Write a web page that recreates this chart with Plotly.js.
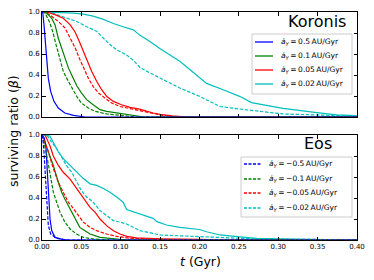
<!DOCTYPE html>
<html><head><meta charset="utf-8">
<script src="https://cdn.plot.ly/plotly-3.0.1.min.js"></script>
<style>html,body{margin:0;padding:0;background:#fff}#c{width:374px;height:280px}</style>
</head><body><div id="c"></div>
<script>
// ---- Koronis (top) ----
const kBlueT = [0,0.001,0.0025,0.0042,0.0059,0.008,0.011,0.0152,0.0207,0.029,0.040,0.048,0.055,0.40];
const kBlueB = [1,0.99,0.88,0.72,0.53,0.37,0.244,0.149,0.086,0.038,0.016,0.006,0,0];
const kGreenT = [0,0.0059,0.0123,0.0165,0.0207,0.025,0.029,0.0334,0.0377,0.044,0.050,0.0567,0.065,0.0737,0.082,0.0948,0.1075,0.12,0.13,0.40];
const kGreenB = [1,0.99,0.94,0.88,0.75,0.66,0.56,0.47,0.40,0.30,0.23,0.165,0.117,0.07,0.054,0.038,0.022,0.01,0,0];
const kGreenDT = [0,0.0038,0.0093,0.0135,0.0178,0.022,0.027,0.0313,0.0377,0.044,0.050,0.0588,0.0673,0.082,0.099,0.112,0.12,0.40];
const kGreenDB = [1,0.99,0.91,0.816,0.69,0.56,0.435,0.37,0.276,0.197,0.133,0.086,0.054,0.029,0.016,0.006,0,0];
const kRedT = [0,0.0059,0.0165,0.027,0.0356,0.042,0.0474,0.0525,0.0576,0.063,0.0694,0.0758,0.082,0.0906,0.101,0.1117,0.124,0.133,0.141,0.150,0.165,0.185,0.40];
const kRedB = [1,1.0,0.975,0.94,0.88,0.81,0.72,0.625,0.53,0.435,0.34,0.26,0.197,0.149,0.117,0.092,0.075,0.055,0.038,0.025,0.01,0,0];
const kRedDT = [0,0.0038,0.0123,0.0207,0.029,0.0356,0.042,0.0474,0.0525,0.0588,0.065,0.0715,0.080,0.0885,0.099,0.1117,0.124,0.137,0.150,0.17,0.40];
const kRedDB = [1,1,0.96,0.91,0.85,0.75,0.66,0.56,0.467,0.37,0.29,0.23,0.18,0.133,0.10,0.080,0.055,0.035,0.02,0,0];
const kCyanT = [0,0.0229,0.040,0.0525,0.065,0.078,0.0906,0.103,0.116,0.124,0.137,0.150,0.175,0.188,0.209,0.230,0.251,0.266,0.306,0.349,0.374,0.391,0.40];
const kCyanB = [1,0.995,0.99,0.98,0.96,0.93,0.89,0.86,0.83,0.78,0.72,0.65,0.53,0.45,0.32,0.26,0.197,0.137,0.083,0.041,0.02,0.015,0.01];
const kCyanDT = [0,0.010,0.0186,0.031,0.044,0.0567,0.0694,0.078,0.0863,0.0948,0.1075,0.116,0.1245,0.137,0.150,0.175,0.2,0.226,0.251,0.273,0.306,0.349,0.40];
const kCyanDB = [1,1,0.975,0.94,0.91,0.86,0.816,0.75,0.69,0.64,0.59,0.54,0.47,0.42,0.37,0.276,0.197,0.10,0.076,0.055,0.029,0.019,0.01];
// ---- Eos (bottom) ----
const eBlueT = [0,0.003,0.0051,0.0068,0.0085,0.0102,0.0123,0.0165,0.027,0.035,0.40];
const eBlueB = [1,0.97,0.87,0.64,0.39,0.20,0.09,0.025,0.003,0,0];
const eBlueDT = [0,0.001,0.0025,0.0042,0.0059,0.008,0.011,0.0186,0.031,0.40];
const eBlueDB = [1,0.97,0.84,0.59,0.33,0.14,0.057,0.016,0,0];
const eGreenT = [0,0.0017,0.008,0.0144,0.0207,0.025,0.029,0.033,0.0377,0.044,0.048,0.0546,0.061,0.0737,0.0906,0.1075,0.40];
const eGreenB = [1,0.98,0.84,0.71,0.55,0.455,0.39,0.33,0.27,0.17,0.12,0.089,0.057,0.025,0.01,0,0];
const eGreenDT = [0,0.0017,0.0059,0.0102,0.0144,0.0186,0.0229,0.029,0.0356,0.044,0.0525,0.065,0.082,0.40];
const eGreenDB = [1,0.965,0.81,0.61,0.455,0.36,0.265,0.17,0.105,0.057,0.025,0.01,0,0];
const eRedT = [0,0.0038,0.010,0.0144,0.0207,0.027,0.0356,0.044,0.0525,0.061,0.0673,0.0737,0.082,0.0906,0.099,0.1075,0.12,0.15,0.2,0.23,0.40];
const eRedB = [1,1.0,0.90,0.80,0.71,0.645,0.58,0.49,0.39,0.31,0.265,0.20,0.137,0.089,0.057,0.035,0.02,0.012,0.006,0,0];
const eRedDT = [0,0.0017,0.008,0.0144,0.0207,0.027,0.0334,0.0398,0.046,0.0525,0.061,0.0694,0.082,0.0948,0.112,0.15,0.2,0.40];
const eRedDB = [1,0.965,0.84,0.68,0.55,0.455,0.36,0.30,0.235,0.17,0.12,0.089,0.057,0.035,0.016,0.005,0,0];
const eCyanT = [0,0.0038,0.010,0.0144,0.0207,0.027,0.0356,0.044,0.0525,0.061,0.0694,0.078,0.0863,0.0948,0.103,0.1075,0.124,0.141,0.146,0.158,0.175,0.2,0.209,0.226,0.251,0.273,0.30,0.35,0.40];
const eCyanB = [1,1.0,0.99,0.93,0.84,0.775,0.71,0.65,0.585,0.535,0.52,0.49,0.455,0.41,0.36,0.29,0.25,0.206,0.175,0.143,0.12,0.10,0.079,0.048,0.03,0.016,0.012,0.008,0.0];
const eCyanDT = [0,0.0059,0.0123,0.0186,0.025,0.031,0.0377,0.044,0.050,0.0567,0.065,0.0737,0.082,0.0906,0.099,0.1075,0.124,0.150,0.2,0.251,0.273,0.35,0.40];
const eCyanDB = [1,1.0,0.93,0.87,0.79,0.71,0.645,0.55,0.47,0.41,0.36,0.28,0.23,0.185,0.17,0.153,0.09,0.048,0.032,0.016,0.01,0.005,0];

const rates = ["0.5","0.1","0.05","0.02"];
const negRates = ["\u22120.5","\u22120.1","\u22120.05","\u22120.02"];
const colors = ["#0000ff","#008000","#ff0000","#00bfbf"];
const panelNames = ["Koronis","Eos"];
const xTicks = [0,0.05,0.10,0.15,0.20,0.25,0.30,0.35,0.40];
const yTicks = [0,0.2,0.4,0.6,0.8,1.0];

const DASH = "3.5px,1.6px";
function tr(x,y,c,dash,xa,ya){
  return {x:x,y:y,type:"scatter",mode:"lines",xaxis:xa,yaxis:ya,showlegend:false,hoverinfo:"skip",
    line:{color:c,width:1.2,dash:dash?DASH:"solid"}};
}
const data = [
  tr(kCyanDT,kCyanDB,colors[3],true,"x","y"),
  tr(kRedDT,kRedDB,colors[2],true,"x","y"),
  tr(kGreenDT,kGreenDB,colors[1],true,"x","y"),
  tr(kCyanT,kCyanB,colors[3],false,"x","y"),
  tr(kRedT,kRedB,colors[2],false,"x","y"),
  tr(kGreenT,kGreenB,colors[1],false,"x","y"),
  tr(kBlueT,kBlueB,colors[0],false,"x","y"),
  tr(eCyanT,eCyanB,colors[3],false,"x2","y2"),
  tr(eRedT,eRedB,colors[2],false,"x2","y2"),
  tr(eGreenT,eGreenB,colors[1],false,"x2","y2"),
  tr(eBlueT,eBlueB,colors[0],false,"x2","y2"),
  tr(eCyanDT,eCyanDB,colors[3],true,"x2","y2"),
  tr(eRedDT,eRedDB,colors[2],true,"x2","y2"),
  tr(eGreenDT,eGreenDB,colors[1],true,"x2","y2"),
  tr(eBlueDT,eBlueDB,colors[0],true,"x2","y2")
];

// pixel -> paper helpers (plot area: x 42..357, y 12..240)
const L=42,R=357,T=12,B=240;
const px=v=>(v-L)/(R-L), py=v=>(B-v)/(B-T);

const tickFont={family:"DejaVu Sans",size:7,color:"#000"};
function xax(show){return {domain:[0,1],range:[0,0.4],tickvals:xTicks,tickformat:".2f",showticklabels:show,
  ticks:"inside",ticklen:3.5,tickcolor:"#000",showline:true,mirror:"ticks",linecolor:"#000",linewidth:1,
  showgrid:false,zeroline:false,tickfont:tickFont};}
function yax(dom){return {domain:dom,range:[0,1],tickvals:yTicks,tickformat:".1f",
  ticks:"inside",ticklen:3.5,tickcolor:"#000",showline:true,mirror:"ticks",linecolor:"#000",linewidth:1,
  showgrid:false,zeroline:false,tickfont:tickFont};}

const shapes=[], annotations=[];
function legend(box, items, lineX0, lineX1, textX, labels, dashed){
  shapes.push({type:"rect",xref:"paper",yref:"paper",x0:px(box[0]),x1:px(box[1]),y0:py(box[2]),y1:py(box[3]),
    line:{color:"#cccccc",width:1},fillcolor:"rgba(255,255,255,0.85)",layer:"above"});
  labels.forEach((lab,i)=>{
    shapes.push({type:"line",xref:"paper",yref:"paper",x0:px(lineX0),x1:px(lineX1),y0:py(items[i]),y1:py(items[i]),
      line:{color:colors[i],width:1.3,dash:dashed?"3px,1.5px":"solid"},layer:"above"});
    annotations.push({xref:"paper",yref:"paper",x:px(textX),y:py(items[i]),xanchor:"left",yanchor:"middle",showarrow:false,
      text:"<i>\u0227<sub>Y</sub></i>\u2009=\u2009"+lab+"\u2009AU/Gyr",font:{family:"DejaVu Sans",size:7.5,color:"#000"}});
  });
}
legend([252,352,34,94],[42,56,70,84],255,273,279,rates,false);
legend([241,352,157,217],[164,179,193,208],244,262,267,negRates,true);

annotations.push({xref:"paper",yref:"paper",x:px(317),y:py(21),xanchor:"center",yanchor:"middle",showarrow:false,
  text:panelNames[0],font:{family:"DejaVu Sans",size:16,color:"#000"}});
annotations.push({xref:"paper",yref:"paper",x:px(317.5),y:py(143),xanchor:"center",yanchor:"middle",showarrow:false,
  text:panelNames[1],font:{family:"DejaVu Sans",size:16,color:"#000"}});
annotations.push({xref:"paper",yref:"paper",x:px(13),y:py(131),xanchor:"center",yanchor:"middle",showarrow:false,textangle:-90,
  text:"surviving ratio (<i>\u03b2</i>)",font:{family:"DejaVu Sans",size:12.5,color:"#000"}});
annotations.push({xref:"paper",yref:"paper",x:px(200),y:py(261),xanchor:"center",yanchor:"middle",showarrow:false,
  text:"<i>t</i> (Gyr)",font:{family:"DejaVu Sans",size:12.5,color:"#000"}});

const layout={width:374,height:280,margin:{l:L,r:374-R,t:T,b:280-B,pad:0},
  paper_bgcolor:"#fff",plot_bgcolor:"#fff",showlegend:false,
  xaxis:Object.assign(xax(false),{anchor:"y"}),
  yaxis:Object.assign(yax([py(117),1]),{anchor:"x"}),
  xaxis2:Object.assign(xax(true),{anchor:"y2"}),
  yaxis2:Object.assign(yax([0,py(135)]),{anchor:"x2"}),
  shapes:shapes,annotations:annotations};
Plotly.newPlot("c",data,layout,{staticPlot:true});
</script></body></html>
